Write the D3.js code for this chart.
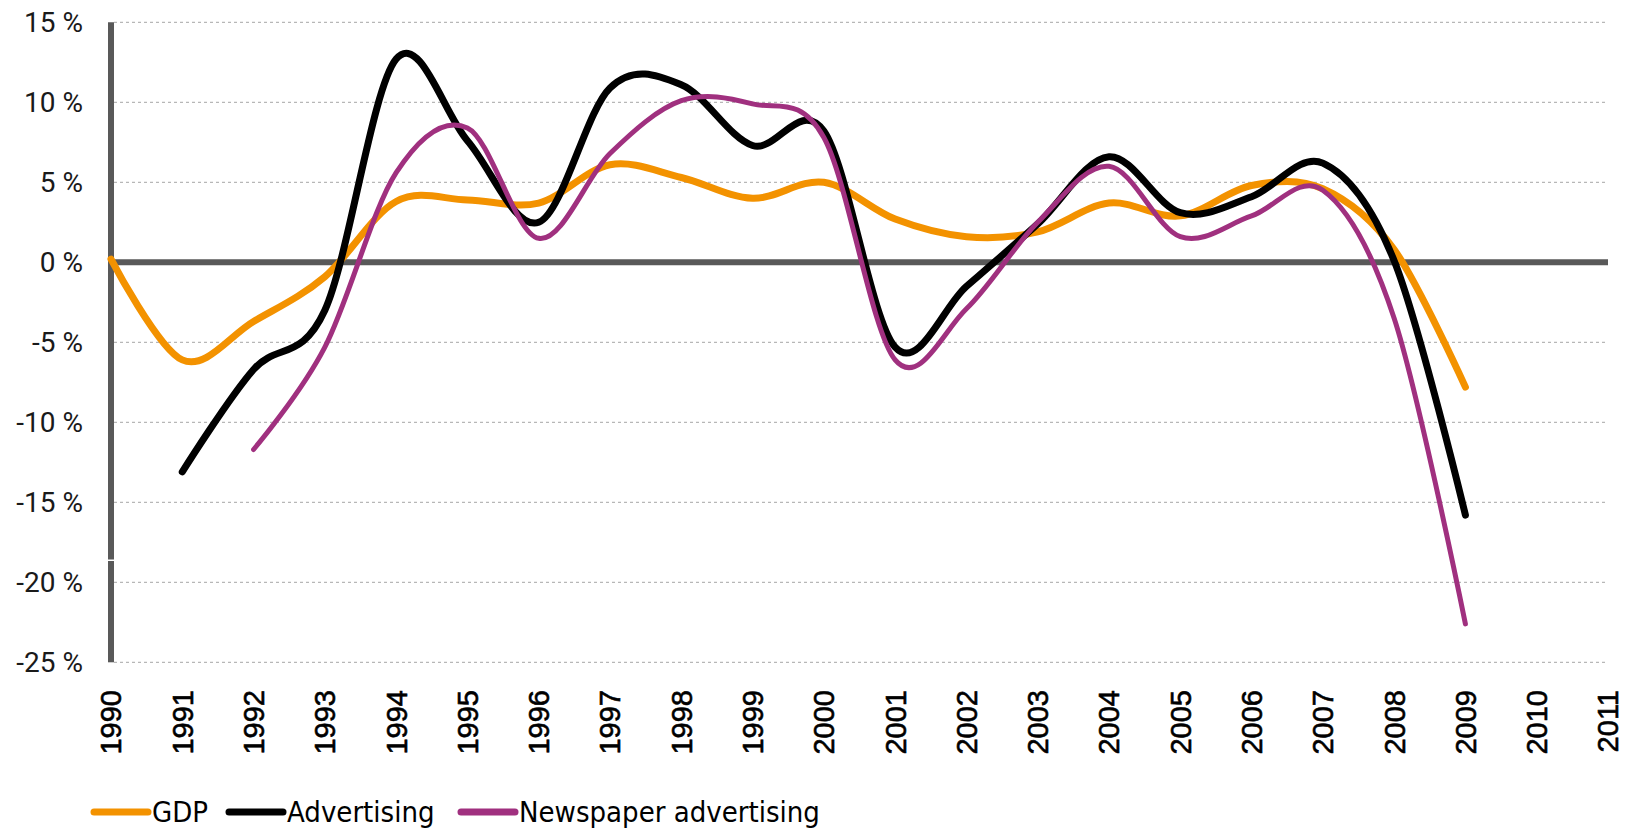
<!DOCTYPE html>
<html>
<head>
<meta charset="utf-8">
<script src="https://cdn.jsdelivr.net/npm/d3@7"></script>
<style>
  body { margin: 0; background: #fff; }
  svg { display: block; }
</style>
</head>
<body>
<script>
// years on the x axis (ticks run one year further than the data)
const years = d3.range(1990, 2012);
const yTicks = [15, 10, 5, 0, -5, -10, -15, -20, -25];

// yearly change, %
const gdpYears = d3.range(1990, 2010);
const gdp = [0.2, -6.1, -3.7, -0.9, 3.8, 3.9, 3.7, 6.1, 5.3, 4.0, 5.0, 2.7, 1.6, 1.9, 3.7, 2.9, 4.8, 4.6, 0.8, -7.8];

const advYears = d3.range(1991, 2010);
const advertising = [-13.1, -6.7, -3.0, 12.7, 7.6, 2.5, 10.9, 11.1, 7.3, 8.2, -5.3, -1.5, 2.4, 6.6, 3.1, 4.1, 6.2, 0.1, -15.8];

const newsYears = d3.range(1992, 2010);
const newspaper = [-11.7, -5.3, 5.6, 8.4, 1.5, 6.8, 10.1, 9.9, 7.8, -6.1, -2.9, 2.5, 6.0, 1.6, 2.9, 4.5, -3.5, -22.6];

const series = [
  {name: "GDP", years: gdpYears, values: gdp, color: "#F39200", width: 7},
  {name: "Advertising", years: advYears, values: advertising, color: "#000000", width: 7},
  {name: "Newspaper advertising", years: newsYears, values: newspaper, color: "#A0307F", width: 5}
];

const W = 1625, H = 830;
const x = d3.scaleLinear().domain([1990, 2011]).range([111, 1608]);
const y = d3.scaleLinear().domain([-25, 15]).range([662.3, 22.3]);

const svg = d3.select("body").append("svg")
    .attr("width", W)
    .attr("height", H);

// gridlines
svg.append("g")
  .selectAll("line")
  .data(yTicks.filter(d => d !== 0))
  .join("line")
    .attr("x1", 114)
    .attr("x2", 1606)
    .attr("y1", d => y(d))
    .attr("y2", d => y(d))
    .attr("stroke", "#a6a6a6")
    .attr("stroke-width", 1)
    .attr("stroke-dasharray", "3,3");

// y axis labels
svg.append("g")
  .selectAll("text")
  .data(yTicks)
  .join("text")
    .attr("x", 83)
    .attr("y", d => y(d))
    .attr("dy", "0.36em")
    .attr("text-anchor", "end")
    .style("font-family", "Roboto, sans-serif")
    .style("font-size", "28px")
    .attr("fill", "#1a1a1a")
    .text(d => d + " %");

// x axis labels, rotated
svg.append("g")
  .selectAll("text")
  .data(years)
  .join("text")
    .attr("transform", d => "translate(" + x(d) + ",690) rotate(-90)")
    .attr("dy", "0.36em")
    .attr("text-anchor", "end")
    .style("font-family", "'Liberation Sans', Arial, sans-serif")
    .style("font-size", "29px")
    .attr("fill", "#000")
    .attr("stroke", "#000")
    .attr("stroke-width", 0.6)
    .text(d => d);

// vertical axis (with the small break the original shows)
svg.append("line")
    .attr("x1", 111).attr("x2", 111)
    .attr("y1", y(15)).attr("y2", 559.5)
    .attr("stroke", "#595959").attr("stroke-width", 6);
svg.append("line")
    .attr("x1", 111).attr("x2", 111)
    .attr("y1", 561).attr("y2", y(-25))
    .attr("stroke", "#595959").attr("stroke-width", 6);

// zero line
svg.append("line")
    .attr("x1", 108).attr("x2", x(2011))
    .attr("y1", y(0)).attr("y2", y(0))
    .attr("stroke", "#595959").attr("stroke-width", 6);

// the smoothed lines
const line = d3.line()
    .x(d => x(d[0]))
    .y(d => y(d[1]))
    .curve(d3.curveCardinal.tension(0));

svg.append("g")
  .selectAll("path")
  .data(series)
  .join("path")
    .attr("d", s => line(s.years.map((yr, i) => [yr, s.values[i]])))
    .attr("fill", "none")
    .attr("stroke", s => s.color)
    .attr("stroke-width", s => s.width)
    .attr("stroke-linecap", "round")
    .attr("stroke-linejoin", "round");

// legend
const legendX = [94, 229, 461];
const legend = svg.append("g")
  .selectAll("g")
  .data(series)
  .join("g")
    .attr("transform", (d, i) => "translate(" + legendX[i] + ",812)");

legend.append("line")
    .attr("x1", 0).attr("x2", 54)
    .attr("y1", 0).attr("y2", 0)
    .attr("stroke", d => d.color)
    .attr("stroke-width", 7)
    .attr("stroke-linecap", "round");

legend.append("text")
    .attr("x", 58)
    .attr("dy", "0.36em")
    .style("font-family", "'DejaVu Sans Condensed', 'DejaVu Sans', sans-serif")
    .style("font-stretch", "condensed")
    .style("font-size", "29px")
    .attr("fill", "#000")
    .text(d => d.name);
</script>
</body>
</html>
